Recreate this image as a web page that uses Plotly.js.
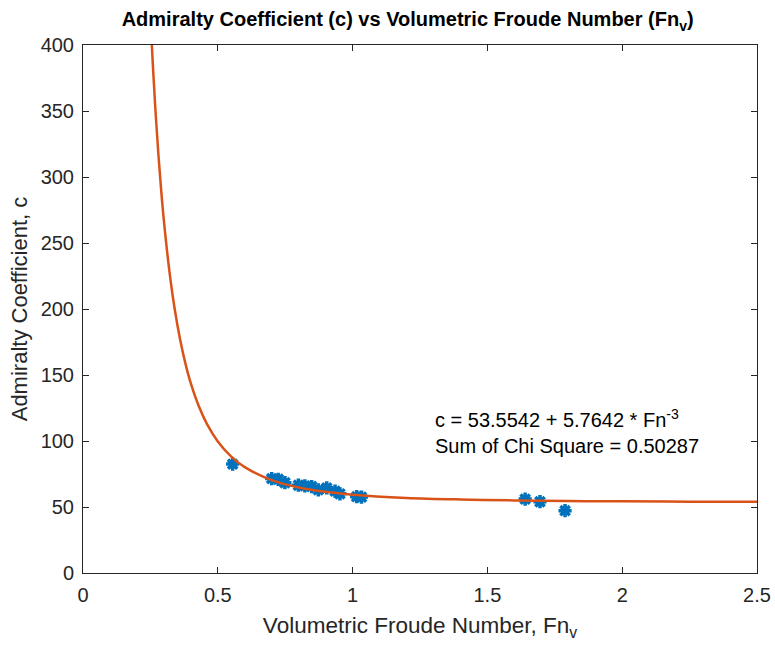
<!DOCTYPE html>
<html>
<head>
<meta charset="utf-8">
<script src="https://cdn.plot.ly/plotly-3.0.1.min.js"></script>
<style>html,body{margin:0;padding:0;background:#fff;}#chart{width:775px;height:649px;}</style>
</head>
<body>
<div id="chart"></div>
<script>
// Measured data points (Fn_v, c)
var fnData = [0.555, 0.700, 0.724, 0.749, 0.799, 0.823, 0.848, 0.873, 0.904, 0.935, 0.953, 1.015, 1.033, 1.640, 1.695, 1.788];
var cData  = [82.5, 71.5, 71.0, 68.4, 66.5, 66.0, 65.5, 63.0, 64.5, 62.0, 60.0, 57.8, 57.5, 56.0, 54.0, 47.2];

// Fitted curve
var fnFit = [0.255, 0.26, 0.27, 0.28, 0.29, 0.30, 0.32, 0.34, 0.36, 0.38, 0.40, 0.43, 0.46, 0.50, 0.55, 0.60, 0.70, 0.80, 0.90, 1.0, 1.2, 1.4, 1.6, 1.8, 2.0, 2.25, 2.5];
var cFit  = [401.2, 381.5, 346.4, 316.1, 289.9, 267.0, 229.5, 200.2, 177.1, 158.6, 143.6, 126.1, 112.8, 99.7, 88.2, 80.2, 70.4, 64.8, 61.5, 59.3, 56.9, 55.7, 55.0, 54.5, 54.3, 54.06, 53.9];

var xTicks = [0, 0.5, 1, 1.5, 2, 2.5];
var xTickText = ['0', '0.5', '1', '1.5', '2', '2.5'];
var yTicks = [0, 50, 100, 150, 200, 250, 300, 350, 400];

var fitText = 'c = 53.5542 + 5.7642 * Fn<sup>-3</sup><br>Sum of Chi Square = 0.50287';

var traces = [
  {
    x: fnData, y: cData, type: 'scatter', mode: 'markers',
    marker: {symbol: 'asterisk-open', size: 11, color: '#0072BD', line: {color: '#0072BD', width: 3.5}},
    hoverinfo: 'skip', showlegend: false
  },
  {
    x: fnFit, y: cFit, type: 'scatter', mode: 'lines',
    line: {color: '#D95319', width: 2.5, shape: 'spline', smoothing: 1},
    hoverinfo: 'skip', showlegend: false
  }
];

var axisCommon = {
  showline: true, linecolor: '#262626', linewidth: 1, mirror: 'ticks',
  ticks: 'inside', ticklen: 6, tickcolor: '#262626', tickwidth: 1,
  showgrid: false, zeroline: false,
  tickfont: {family: 'Liberation Sans, Arial, sans-serif', size: 20, color: '#262626'}
};

var layout = {
  width: 775, height: 649,
  margin: {l: 83, r: 18, t: 45, b: 76},
  paper_bgcolor: '#ffffff', plot_bgcolor: '#ffffff',
  font: {family: 'Liberation Sans, Arial, sans-serif', color: '#262626'},
  title: {
    text: '<b>Admiralty Coefficient (c) vs Volumetric Froude Number (Fn<sub>v</sub>)</b>',
    font: {size: 20, color: '#000000'},
    x: 0.526, xanchor: 'center', y: 0.97, yanchor: 'middle'
  },
  xaxis: Object.assign({}, axisCommon, {
    range: [0, 2.5], tickvals: xTicks, ticktext: xTickText, ticklabelstandoff: 4,
    title: {text: 'Volumetric Froude Number, Fn<sub>v</sub>', font: {size: 22.5, color: '#262626'}, standoff: 12}
  }),
  yaxis: Object.assign({}, axisCommon, {
    range: [0, 400], tickvals: yTicks, ticklabelstandoff: 4,
    title: {text: 'Admiralty Coefficient, c', font: {size: 22, color: '#262626'}, standoff: 6}
  }),
  annotations: [{
    x: 1.298, y: 107, xref: 'x', yref: 'y', xanchor: 'left', yanchor: 'middle',
    text: fitText, showarrow: false, align: 'left',
    font: {size: 20, color: '#000000'}
  }]
};

Plotly.newPlot('chart', traces, layout, {displayModeBar: false, staticPlot: true});
</script>
</body>
</html>
